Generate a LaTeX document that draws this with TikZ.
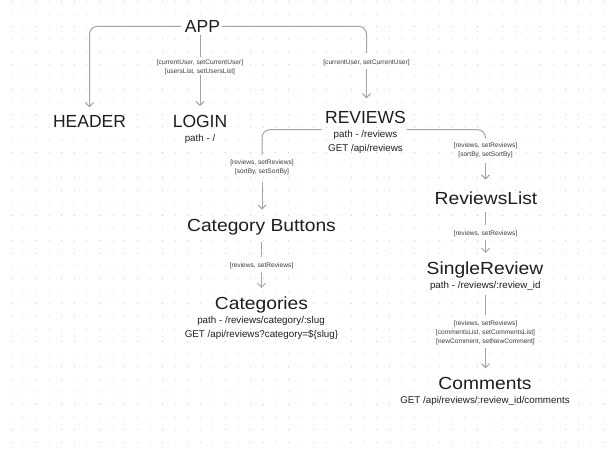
\documentclass[tikz,border=0pt]{standalone}
\usepackage{fontspec}
\setmainfont{Liberation Sans}
\newfontfamily\widesans[FakeStretch=1.1]{Liberation Sans}
\usetikzlibrary{arrows.meta}
\definecolor{ink}{HTML}{1E1E1E}
\definecolor{linec}{HTML}{A3A3A3}
\definecolor{dotc}{HTML}{C8C8C8}
\definecolor{lblc}{HTML}{3C3C3C}
\tikzset{
  big/.style={font=\fontsize{17.5}{21}\selectfont, text=ink, inner sep=0pt, anchor=base},
  bigw/.style={font=\widesans\fontsize{17.5}{21}\selectfont, text=ink, inner sep=0pt, anchor=base},
  mid/.style={font=\fontsize{9.8}{14.2}\selectfont, text=ink, inner sep=0pt, anchor=base},
  lbl/.style={font=\fontsize{6.6}{9}\selectfont, text=lblc, inner sep=0pt, align=center},
  conn/.style={draw=linec, line width=1pt},
  arr/.style={conn, -{Straight Barb[length=4pt,width=8pt]}},
}
\begin{document}
\begin{tikzpicture}[x=1pt,y=-1pt]
\fill[white] (0,0) rectangle (609,450);
\useasboundingbox (0,0) rectangle (609,450);
% dotted grid
\foreach \i in {0,...,47}{\foreach \j in {0,...,35}{\fill[dotc] ({11.3+12.6*\i},{1.3+12.6*\j}) circle (0.55);}}

% main nodes
\node[big] (app) at (202.5,32.3) {APP};
\node[big] (header) at (89.5,127.5) {HEADER};
\node[big] (login) at (200,127.3) {LOGIN};
\node[mid] (loginpath) at (200,141.5) {path - /};
\node[big] (reviews) at (365.5,123.3) {REVIEWS};
\node[mid] (rpath) at (365.5,137.5) {path - /reviews};
\node[mid] (rget) at (365.5,151.7) {GET /api/reviews};
\node[bigw] (catbtn) at (261.5,231.5) {Category Buttons};
\node[bigw] (cats) at (261.5,309.2) {Categories};
\node[mid] (cpath) at (261,323.5) {path - /reviews/category/:slug};
\node[mid] (cget) at (261.5,337.7) {GET /api/reviews?category=\$\{slug\}};
\node[bigw] (rlist) at (486,204.2) {ReviewsList};
\node[bigw] (single) at (485,274.2) {SingleReview};
\node[mid] (spath) at (485.3,288.4) {path - /reviews/:review\_id};
\node[bigw] (comments) at (485,389.2) {Comments};
\node[mid] (cmget) at (485,403.4) {GET /api/reviews/:review\_id/comments};

% edge labels
\node[lbl] (l1) at (200,66.8) {[currentUser, setCurrentUser]\\{}[usersList, setUsersList]};
\node[lbl] (l2) at (366.5,62.3) {[currentUser, setCurrentUser]};
\node[lbl] (l3) at (262,166.8) {[reviews, setReviews]\\{}[sortBy, setSortBy]};
\node[lbl] (l4) at (485.5,150.1) {[reviews, setReviews]\\{}[sortBy, setSortBy]};
\node[lbl] (l5) at (261.5,265.3) {[reviews, setReviews]};
\node[lbl] (l6) at (485.5,233.3) {[reviews, setReviews]};
\node[lbl] (l7) at (485.5,332.3) {[reviews, setReviews]\\{}[commentsList, setCommentsList]\\{}[newComment, setNewComment]};

\coordinate (rvL) at (321.7,129.7);
\coordinate (rvR) at (406.7,129.7);

% connectors
\draw[arr, rounded corners=8, shorten <=3.3pt, shorten >=8pt] (app.west) -| (header.north);
\draw[conn, rounded corners=8, shorten <=1.7pt, shorten >=6pt] (app.east) -| (l2.north);
\draw[arr, shorten <=3pt, shorten >=12.5pt] (l2.south) -- (l2.south |- reviews.north);
\draw[conn, shorten <=2.7pt, shorten >=2.2pt] (l1.north |- app.south) -- (l1.north);
\draw[arr, shorten <=0.6pt, shorten >=8.8pt] (l1.south) -- (l1.south |- login.north);

\draw[conn, rounded corners=8, shorten >=4.2pt] (rvL) -| (l3.north);
\draw[arr, shorten <=7.3pt, shorten >=9.5pt] (l3.south) -- (l3.south |- catbtn.north);
\draw[conn, rounded corners=8, shorten >=4pt] (rvR) -| (l4.north);
\draw[arr, shorten <=5.6pt, shorten >=11.7pt] (l4.south) -- (l4.south |- rlist.north);

\draw[conn, shorten <=6.5pt, shorten >=5.5pt] (catbtn.south -| l5.north) -- (l5.north);
\draw[arr, shorten <=3.3pt, shorten >=8.4pt] (l5.south) -- (l5.south |- cats.north);

\draw[conn, shorten <=7.5pt, shorten >=5.2pt] (rlist.south -| l6.north) -- (l6.north);
\draw[arr, shorten <=3.6pt, shorten >=8.4pt] (l6.south) -- (l6.south |- single.north);

\draw[conn, shorten <=4.5pt, shorten >=5.2pt] (spath.south -| l7.north) -- (l7.north);
\draw[arr, shorten <=3.9pt, shorten >=8.4pt] (l7.south) -- (l7.south |- comments.north);
\end{tikzpicture}
\end{document}
